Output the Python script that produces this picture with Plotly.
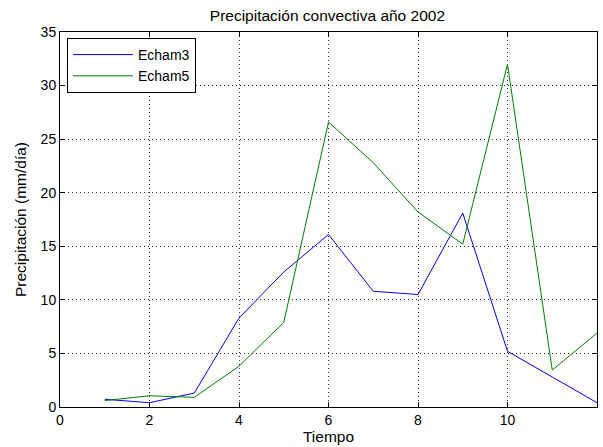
import plotly.graph_objects as go

# Monthly convective precipitation (mm/día), 2002
meses = [1, 2, 3, 4, 5, 6, 7, 8, 9, 10, 11, 12]
echam3 = [0.72, 0.4, 1.3, 8.3, 12.6, 16.1, 10.8, 10.5, 18.1, 5.2, 2.8, 0.4]
echam5 = [0.6, 1.05, 0.9, 3.8, 7.9, 26.6, 22.8, 18.2, 15.2, 32.0, 3.45, 6.9]

x_ticks = [0, 2, 4, 6, 8, 10, 12]
y_ticks = [0, 5, 10, 15, 20, 25, 30, 35]

font_family = "Liberation Sans, Arial, sans-serif"

fig = go.Figure()
fig.add_trace(go.Scatter(x=meses, y=echam3, mode="lines", name="Echam3",
                         line=dict(color="#0000FF", width=1)))
fig.add_trace(go.Scatter(x=meses, y=echam5, mode="lines", name="Echam5",
                         line=dict(color="#008000", width=1)))

axis_common = dict(
    showline=True, linecolor="black", linewidth=1, mirror="ticks",
    ticks="inside", ticklen=5, tickcolor="black",
    showgrid=True, gridcolor="#333333", gridwidth=1, griddash="1px,3px",
    zeroline=False, tickfont=dict(size=14, color="black", family=font_family),
)

fig.update_xaxes(range=[0, 12], tickvals=x_ticks, **axis_common,
                 title=dict(text="Tiempo", font=dict(size=15.5, color="black", family=font_family),
                            standoff=3))
fig.update_yaxes(range=[0, 35], tickvals=y_ticks, **axis_common,
                 title=dict(text="Precipitación (mm/día)",
                            font=dict(size=15.5, color="black", family=font_family),
                            standoff=10))

fig.update_layout(
    width=603, height=447,
    margin=dict(l=60, r=6, t=32, b=40),
    paper_bgcolor="white", plot_bgcolor="white",
    title=dict(text="Precipitación convectiva año 2002", x=0.543, xanchor="center",
               y=0.966, yanchor="middle",
               font=dict(size=15.5, color="black", family=font_family)),
    legend=dict(x=0.013, y=0.984, xanchor="left", yanchor="top",
                bgcolor="white", bordercolor="black", borderwidth=1,
                font=dict(size=14, color="black", family=font_family),
                itemwidth=60, tracegroupgap=0),
    showlegend=True,
)

fig.write_html("out.html")
